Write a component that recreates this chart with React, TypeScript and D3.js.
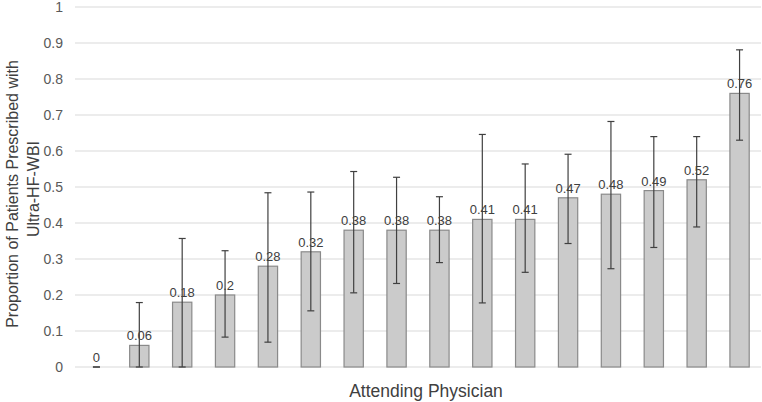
import * as d3 from "d3";

const W = 762;
const H = 402;
const MARGIN = { top: 7, right: 1, bottom: 35, left: 75 };

const physicians = d3.range(16).map((i) => `P${i + 1}`);
const proportions = [0, 0.06, 0.18, 0.2, 0.28, 0.32, 0.38, 0.38, 0.38, 0.41, 0.41, 0.47, 0.48, 0.49, 0.52, 0.76];
const upperCI = [0, 0.179, 0.357, 0.323, 0.484, 0.486, 0.543, 0.527, 0.473, 0.646, 0.564, 0.591, 0.682, 0.64, 0.64, 0.881];
const lowerCI = [0, 0, 0, 0.083, 0.069, 0.156, 0.206, 0.232, 0.29, 0.178, 0.263, 0.343, 0.273, 0.332, 0.389, 0.63];
const yTicks = [0, 0.1, 0.2, 0.3, 0.4, 0.5, 0.6, 0.7, 0.8, 0.9, 1];

const FONT = "'Liberation Sans', Arial, Helvetica, sans-serif";

export default function App() {
  const boundsWidth = W - MARGIN.left - MARGIN.right;
  const boundsHeight = H - MARGIN.top - MARGIN.bottom;

  const xScale = d3.scaleBand().domain(physicians).range([0, boundsWidth]).paddingInner(0.55).paddingOuter(0.275);
  const yScale = d3.scaleLinear().domain([0, 1]).range([boundsHeight, 0]);

  const bw = xScale.bandwidth();

  return (
    <svg
      width={W}
      height={H}
      style={{ position: "absolute", left: 0, top: 0, background: "#fff" }}
      fontFamily={FONT}
    >
      <g transform={`translate(${MARGIN.left},${MARGIN.top})`}>
        {yTicks.map((t) => (
          <g key={t}>
            <line x1={0} x2={boundsWidth} y1={yScale(t)} y2={yScale(t)} stroke="#d9d9d9" strokeWidth={1} />
            <text x={-12} y={yScale(t)} dy="0.35em" textAnchor="end" fontSize={14} fill="#595959">
              {t}
            </text>
          </g>
        ))}

        {physicians.map((p, i) => {
          const x = xScale(p) ?? 0;
          const cx = x + bw / 2;
          const v = proportions[i];
          return (
            <g key={p}>
              <rect
                x={x}
                y={yScale(v)}
                width={bw}
                height={boundsHeight - yScale(v)}
                fill="#cbcbcb"
                stroke="#8a8a8a"
                strokeWidth={1.2}
              />
              <line x1={cx} x2={cx} y1={yScale(upperCI[i])} y2={yScale(lowerCI[i])} stroke="#404040" strokeWidth={1.2} />
              <line x1={cx - 3.5} x2={cx + 3.5} y1={yScale(upperCI[i])} y2={yScale(upperCI[i])} stroke="#404040" strokeWidth={1.2} />
              <line x1={cx - 3.5} x2={cx + 3.5} y1={yScale(lowerCI[i])} y2={yScale(lowerCI[i])} stroke="#404040" strokeWidth={1.2} />
              <text x={cx} y={yScale(v) - 5} textAnchor="middle" fontSize={13} fill="#404040">
                {v}
              </text>
            </g>
          );
        })}
      </g>

      <text
        transform={`translate(12,${MARGIN.top + boundsHeight / 2 + 7}) rotate(-90)`}
        textAnchor="middle"
        dy="0.35em"
        fontSize={16}
        fill="#404040"
      >
        Proportion of Patients Prescribed with
      </text>
      <text
        transform={`translate(33,${MARGIN.top + boundsHeight / 2 + 2}) rotate(-90)`}
        textAnchor="middle"
        dy="0.35em"
        fontSize={16}
        fill="#404040"
      >
        Ultra-HF-WBI
      </text>
      <text x={MARGIN.left + boundsWidth / 2 + 8} y={391} dy="0.35em" textAnchor="middle" fontSize={17.5} fill="#404040">
        Attending Physician
      </text>
    </svg>
  );
}
